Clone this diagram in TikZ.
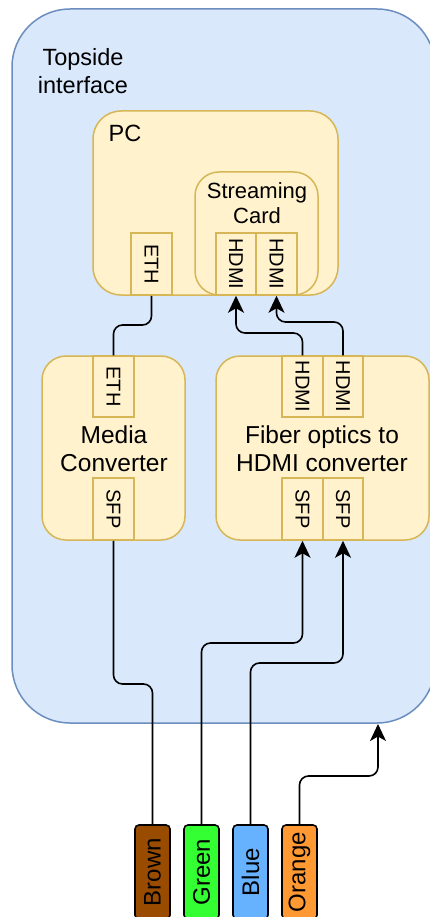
\documentclass[tikz,border=0pt]{standalone}
\usepackage{fontspec}
\setmainfont{Liberation Sans}
\usetikzlibrary{arrows.meta,calc}

\definecolor{bluefill}{HTML}{DAE8FC}
\definecolor{bluedraw}{HTML}{6C8EBF}
\definecolor{yelfill}{HTML}{FFF2CC}
\definecolor{yeldraw}{HTML}{D6B656}
\definecolor{cbrown}{HTML}{994C00}
\definecolor{cgreen}{HTML}{33FF33}
\definecolor{cblue}{HTML}{66B2FF}
\definecolor{corange}{HTML}{FF9933}

\tikzset{
  outerbox/.style={fill=bluefill, draw=bluedraw, line width=1.5pt, rounded corners=58pt},
  unitbox/.style={rectangle, fill=yelfill, draw=yeldraw, line width=1.5pt, inner sep=0pt},
  port/.style={unitbox, font=\fontsize{20}{20}\selectfont},
  boxtext/.style={align=center, inner sep=0pt, font=\fontsize{23.5}{28}\selectfont},
  bigtext/.style={boxtext, font=\fontsize{24.5}{28}\selectfont},
  cable/.style={rectangle, draw=black, line width=1.6pt, rounded corners=4pt,
    minimum width=35pt, minimum height=94pt, inner sep=0pt,
    font=\fontsize{24}{24}\selectfont},
  wire/.style={draw=black, line width=1.6pt, rounded corners=9pt},
  feed/.style={wire, -{Stealth[length=17pt, width=16pt, inset=4.5pt]}},
}

\begin{document}
\begin{tikzpicture}[x=1pt, y=-1pt]
  \useasboundingbox (0,0) rectangle (430,917);
  \clip (0,0) rectangle (430,917);

  % topside enclosure
  \draw[outerbox] (12,9) rectangle (435,723);
  \node[boxtext, anchor=center] (topside) at (83,71) {Topside\\interface};
  \coordinate (topsideIn) at (378,724);

  % PC with streaming card
  \node[unitbox, rounded corners=28pt, minimum width=245pt, minimum height=184pt] (pc) at (215.5,203) {};
  \node[boxtext] (pclabel) at (125,133) {PC};
  \node[unitbox, rounded corners=24pt, minimum width=123pt, minimum height=123pt] (card) at (256.5,233.5) {};
  \node[boxtext, font=\fontsize{22}{25}\selectfont] (cardlabel) at (257,203.5) {Streaming\\Card};
  \node[port, minimum width=41pt, minimum height=62pt] (pceth) at (151.5,264) {\rotatebox{-90}{ETH}};
  \node[port, minimum width=40pt, minimum height=62pt] (cardhdmiA) at (236,264) {\rotatebox{-90}{HDMI}};
  \node[port, minimum width=41pt, minimum height=62pt] (cardhdmiB) at (276.5,264) {\rotatebox{-90}{HDMI}};

  % media converter
  \node[unitbox, rounded corners=24pt, minimum width=143pt, minimum height=184pt] (mc) at (113.5,448) {};
  \node[bigtext] (mclabel) at (114,449) {Media\\Converter};
  \node[port, minimum width=41pt, minimum height=61pt] (mceth) at (113.5,386.5) {\rotatebox{-90}{ETH}};
  \node[port, minimum width=41pt, minimum height=62pt] (mcsfp) at (113.5,509) {\rotatebox{-90}{SFP}};

  % fiber optics to HDMI converter
  \node[unitbox, rounded corners=24pt, minimum width=213pt, minimum height=184pt] (fo) at (322.5,448) {};
  \node[bigtext] (folabel) at (322,449) {Fiber optics to\\HDMI converter};
  \node[port, minimum width=41pt, minimum height=61pt] (fohdmiA) at (302.5,386.5) {\rotatebox{-90}{HDMI}};
  \node[port, minimum width=40pt, minimum height=61pt] (fohdmiB) at (343,386.5) {\rotatebox{-90}{HDMI}};
  \node[port, minimum width=41pt, minimum height=62pt] (fosfpA) at (302.5,509) {\rotatebox{-90}{SFP}};
  \node[port, minimum width=40pt, minimum height=62pt] (fosfpB) at (343,509) {\rotatebox{-90}{SFP}};

  % tether cables
  \node[cable, fill=cbrown] (brown) at (152.5,872) {\rotatebox{90}{Brown}};
  \node[cable, fill=cgreen] (green) at (201.5,872) {\rotatebox{90}{Green}};
  \node[cable, fill=cblue] (blue) at (250.5,872) {\rotatebox{90}{Blue}};
  \node[cable, fill=corange] (orange) at (299.5,872) {\rotatebox{90}{Orange}};

  % connections
  \draw[wire] (mceth.north) -- (mceth.north |- 0,325) -| (pceth.south);
  \draw[feed] (fohdmiA.north) -- (fohdmiA.north |- 0,333) -| (cardhdmiA.south);
  \draw[feed] (fohdmiB.north) -- (fohdmiB.north |- 0,322) -| (cardhdmiB.south);
  \draw[wire] (mcsfp.south) -- (mcsfp.south |- 0,684) -| (brown.north);
  \draw[feed] (green.north) -- (green.north |- 0,643) -| (fosfpA.south);
  \draw[feed] (blue.north) -- (blue.north |- 0,663) -| (fosfpB.south);
  \draw[feed] (orange.north) -- (orange.north |- 0,776) -| (topsideIn);
\end{tikzpicture}
\end{document}
